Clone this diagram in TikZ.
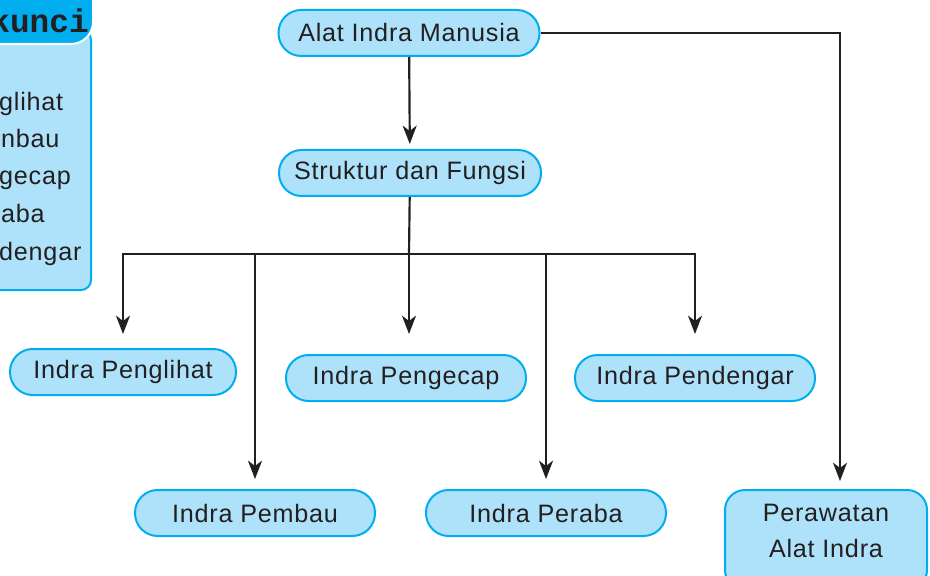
\documentclass[tikz,border=0pt]{standalone}
\usepackage{fontspec}
\setmainfont{Liberation Sans}[LetterSpace=3]
\newfontfamily\keyfont{Liberation Mono}
\usetikzlibrary{arrows.meta, positioning}
\definecolor{mycyan}{HTML}{00AEEF}
\definecolor{mylightblue}{HTML}{AEE2FA}
\definecolor{myblack}{HTML}{231F20}
\tikzset{
	pillnode/.style={
			shape=rectangle,
			rounded corners=6.8mm,
			draw=mycyan,
			line width=0.6mm,
			fill=mylightblue,
			minimum height=13.8mm,
			minimum width=72mm,
			inner sep=0pt,
			text=myblack,
			font=\fontsize{21.5}{26}\selectfont
		},
	boxnode/.style={
			pillnode,
			rounded corners=6mm,
			minimum width=60.6mm,
			minimum height=30mm
		},
	labeltext/.style={
			inner sep=0pt,
			text=myblack,
			align=center,
			font=\fontsize{21.5}{30.6}\selectfont
		},
	keytext/.style={
			inner sep=0pt,
			text=myblack,
			font=\fontsize{21.5}{26}\selectfont
		},
	keytitle/.style={
			inner sep=0pt,
			text=myblack,
			font=\keyfont\bfseries\fontsize{28}{32}\selectfont
		}
}
\tikzset{
	arrowline/.style={-{Stealth[length=5.5mm, width=4.2mm, inset=1.6mm]}, line width=0.65mm, draw=myblack},
	plainline/.style={line width=0.65mm, draw=myblack}
}

\begin{document}
\begin{tikzpicture}[x=0.3mm, y=-0.3mm]
	\useasboundingbox (0,0) rectangle (930,576);
	\clip (0,0) rectangle (930,576);

	% key box on the left
	\draw[draw=mycyan, line width=0.6mm, fill=mylightblue, rounded corners=3mm] (-40,30) rectangle (91,290);
	\draw[draw=white, line width=0.6mm, fill=mycyan, rounded corners=6.6mm] (-40,-40) rectangle (93,44);
	\node[keytitle, anchor=base east] (kunci) at (89,33) {kunci};
	\node[keytext, anchor=base west] (key1) at (-1,111) {glihat};
	\node[keytext, anchor=base west] (key2) at (1,148) {nbau};
	\node[keytext, anchor=base west] (key3) at (-1,185) {gecap};
	\node[keytext, anchor=base west] (key4) at (1,223) {aba};
	\node[keytext, anchor=base west] (key5) at (-1,260) {dengar};

	\node[pillnode, minimum width=78.3mm] (alat) at (409,33) {Alat Indra Manusia};
	\node[pillnode, minimum width=78.6mm] (struktur) at (410,173) {Struktur dan Fungsi};

	\node[pillnode, minimum width=67.8mm] (penglihat) at (123,372) {Indra Penglihat};
	\node[pillnode] (pengecap) at (406,378) {Indra Pengecap};
	\node[pillnode] (pendengar) at (695,378) {Indra Pendengar};
	\node[pillnode] (pembau) at (255,513) {Indra Pembau};
	\node[pillnode] (peraba) at (546,513) {Indra Peraba};

	\node[boxnode] (rawat) at (826,540) {};
	\node[labeltext] (rawattext) at (826,531) {Perawatan\\Alat Indra};

	\coordinate (split) at (409,254);

	\draw[arrowline, shorten >=1.5mm] (alat) -- (struktur);
	\draw[arrowline, shorten >=2.4mm] (alat.east) -| ([xshift=4.2mm]rawat.north);

	\draw[plainline] (struktur) -- (split);
	\draw[arrowline, shorten >=4.2mm] (split) -| (penglihat.north);
	\draw[arrowline, shorten >=3mm] (split) -| (pembau.north);
	\draw[arrowline, shorten >=6mm] (split) -- (split |- pengecap.north);
	\draw[arrowline, shorten >=3mm] (split) -| (peraba.north);
	\draw[arrowline, shorten >=6mm] (split) -| (pendengar.north);

\end{tikzpicture}
\end{document}
